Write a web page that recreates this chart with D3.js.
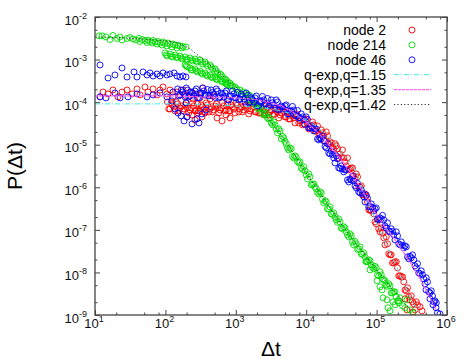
<!DOCTYPE html>
<html>
<head>
<meta charset="utf-8">
<script src="https://cdn.jsdelivr.net/npm/d3@7"></script>
<style>
  body { margin: 0; background: #fff; }
  svg { display: block; font-family: "Liberation Sans", Arial, sans-serif; }
</style>
</head>
<body>
<div id="chart"></div>
<script>
// node 2 : [dt, P]
const node2Data = [
  [11.8,1.33e-4],[13.0,1.73e-4],[15.3,1.56e-4],[18.0,1.93e-4],[21.2,1.33e-4],[24.2,1.73e-4],[28.5,1.93e-4],
  [33.6,1.56e-4],[39.5,2.04e-4],[43.6,1.48e-4],[51.3,2.27e-4],[56.6,1.73e-4],[66.7,2.04e-4],[76.0,1.48e-4],
  [83.8,1.93e-4],[92.5,2.27e-4],[105,1.56e-4],[116,1.93e-4],[128,1.33e-4],[146,1.73e-4],[161,1.48e-4],
  [178,1.93e-4],[196,1.40e-4],[224,1.73e-4],[247,1.19e-4],[281,1.56e-4],[310,1.26e-4],[342,2.15e-4],
  [365,1.48e-4],[430,1.19e-4],[474,1.40e-4],
  [203,4.50e-5],[239,5.01e-5],[263,3.82e-5],[290,5.58e-5],[331,4.50e-5],[365,5.89e-5],[541,4.26e-5],
  [637,3.62e-5],[726,5.01e-5],[827,4.26e-5],
  [107,1.01e-4],[116,6.93e-5],[126,8.60e-5],[137,6.21e-5],[149,9.10e-5],[161,7.31e-5],[175,6.21e-5],
  [190,8.60e-5],[206,7.31e-5],[224,6.56e-5],[243,9.61e-5],[263,6.21e-5],[286,9.10e-5],[310,6.21e-5],
  [337,7.72e-5],[365,5.58e-5],[396,8.60e-5],[430,6.93e-5],[467,5.89e-5],[507,8.15e-5],[550,7.31e-5],
  [597,6.56e-5],[647,9.61e-5],[703,6.21e-5],[763,9.10e-5],[827,6.21e-5],[898,7.72e-5],[974,5.58e-5],
  [1057,8.60e-5],[1147,6.93e-5],[1245,5.89e-5],[1351,8.15e-5],[1466,6.93e-5],[1591,6.21e-5],[1727,9.10e-5],
  [1874,5.89e-5],[2034,8.15e-5],[2207,5.58e-5],[2395,6.93e-5],[2599,5.01e-5],[2821,7.31e-5],[3061,5.89e-5],
  [3322,5.01e-5],[3605,6.56e-5],[3912,5.89e-5],[4245,5.01e-5],[4607,6.93e-5],[4999,4.50e-5],[5425,6.21e-5],
  [5888,4.04e-5],[6389,4.75e-5],[6934,3.25e-5],[7525,4.75e-5],[8166,3.62e-5],[8862,2.92e-5],[9615,3.82e-5],
  [10436,3.08e-5],[11324,2.62e-5],[12290,3.43e-5],[13335,2.11e-5],[14472,2.77e-5],[15705,1.70e-5],
  [17043,1.90e-5],[18496,1.23e-5],[20072,1.61e-5],[21783,1.17e-5],[23640,8.88e-6],[25654,1.05e-5],
  [27840,7.97e-6],[30213,6.08e-6],[32787,7.55e-6],[35583,3.95e-6],[38613,4.90e-6],[41907,2.70e-6],
  [45476,2.85e-6],[49353,1.57e-6],[53557,1.75e-6],[58122,1.02e-6],[63073,6.63e-7],[68455,7.00e-7],
  [74287,4.54e-7],[80610,2.95e-7],[87481,3.28e-7],[94904,1.54e-7],[103030,1.72e-7],[111760,8.98e-8],
  [121330,8.50e-8],[131620,4.44e-8],[142880,4.69e-8],[155010,2.59e-8],[168260,1.68e-8],[182550,1.78e-8],
  [198170,1.28e-8],[215000,8.32e-9],[233380,7.88e-9],[253200,3.90e-9],[274820,4.35e-9],[298200,2.27e-9],
  [323660,2.04e-9],[351200,1.32e-9],[381200,1.74e-9],
  [413500,1.56e-9],[270400,1.32e-9],[329000,1.18e-9],[441600,1.25e-9],[253200,2.40e-9],
  [111.7,6.93e-5],[121.0,9.61e-5],[131.5,7.72e-5],[142.6,1.01e-4],[154.8,6.21e-5],[167.9,8.15e-5],
  [182.3,6.93e-5],[197.8,9.61e-5],[214.7,5.58e-5],[232.9,7.31e-5],[252.8,8.15e-5],[274.3,6.56e-5],
  [297.7,6.21e-5],[323.0,8.60e-5],[350.6,6.93e-5],[380.4,9.61e-5],[412.9,5.89e-5],[448.0,7.72e-5],
  [486.3,6.56e-5],[527.6,9.10e-5],[572.7,5.58e-5],[621.5,7.31e-5],[674.4,8.15e-5],[731.9,6.56e-5],
  [794.3,6.21e-5],[861.9,8.60e-5],[935.3,6.93e-5],[1015,9.61e-5],[1101,5.89e-5],[1195,7.72e-5],
  [1297,6.56e-5],[1407,8.60e-5],[1527,5.29e-5],[1657,6.93e-5],[1799,7.72e-5],[1952,5.89e-5],
  [2119,5.58e-5],[2299,7.72e-5],[2495,6.21e-5],[2707,8.15e-5],[2939,5.01e-5],[3189,6.56e-5],
  [3461,5.29e-5],[3755,7.31e-5],[4075,4.26e-5],[4422,5.58e-5],[4799,5.89e-5],[5207,4.50e-5],
  [5651,4.04e-5],[6134,5.29e-5],[6655,4.26e-5],[7223,5.29e-5],[7839,3.25e-5],[8507,3.82e-5],
  [9232,3.08e-5],[10016,4.04e-5],[10871,2.35e-5],[11796,2.77e-5],[12803,2.92e-5],[13891,2.11e-5],
  [15075,1.80e-5],[16360,2.23e-5],[17754,1.61e-5],[19267,2.00e-5],[20909,1.05e-5],[22691,1.10e-5],
  [24626,7.97e-6],[26724,9.37e-6],[29001,4.90e-6],[31473,5.17e-6],[34154,4.90e-6],[37067,3.18e-6],
  [40223,2.56e-6],[43655,2.86e-6],[47372,1.85e-6],[51411,2.06e-6],[55790,1.02e-6],[60546,1.08e-6],
  [65703,6.63e-7],[71310,6.28e-7],[77385,2.95e-7],[83971,2.79e-7],[91129,2.38e-7],[98862,1.39e-7],
  [107326,1.06e-7],[116420,1.11e-7],[126390,6.49e-8],[137110,6.85e-8],[148840,2.73e-8],[161470,2.59e-8],
  [175280,1.68e-8],[190160,1.78e-8],[206430,8.32e-9],[223960,7.88e-9],[243110,6.01e-9],[263760,3.70e-9],
  [286280,2.67e-9],[310630,2.82e-9],[337160,1.83e-9],[365840,2.04e-9]
];

// node 214 : [dt, P]
const node214Data = [
  [11.4,3.6e-3],[12.6,3.6e-3],[14.3,3.4e-3],[16.3,2.96e-3],[18.0,3.68e-3],[20.5,3.13e-3],[22.6,3.39e-3],
  [24.2,2.88e-3],[28.5,3.13e-3],[31.4,3.30e-3],[34.7,3.05e-3],[38.2,2.88e-3],[42.2,3.13e-3],[43.6,2.66e-3],
  [46.5,2.96e-3],[51.3,2.81e-3],[54.8,2.52e-3],[56.6,2.88e-3],[60.4,2.66e-3],[64.5,2.45e-3],[66.7,2.81e-3],
  [71.2,2.59e-3],[76.0,2.32e-3],[78.5,2.66e-3],[83.8,2.45e-3],[89.5,2.20e-3],[92.5,2.59e-3],[98.7,2.39e-3],
  [105,2.09e-3],[109,2.45e-3],[116,2.26e-3],[124,1.98e-3],[128,2.32e-3],[137,2.20e-3],[146,1.87e-3],
  [151,2.14e-3],[161,2.09e-3],[172,1.87e-3],[178,2.03e-3],[196,1.98e-3],
  [98.7,1.43e-3],[107,1.21e-3],[116,1.35e-3],[126,1.15e-3],[137,1.28e-3],[149,1.09e-3],[161,1.21e-3],
  [175,1.03e-3],[190,1.15e-3],[206,9.79e-4],[224,1.09e-3],[243,9.27e-4],[263,1.03e-3],[286,8.79e-4],
  [310,9.79e-4],[337,7.89e-4],[365,8.79e-4],[396,7.08e-4],[430,7.47e-4],[467,6.02e-4],[507,6.02e-4],
  [550,4.85e-4],[597,4.59e-4],[647,3.90e-4],[703,3.50e-4],[763,2.98e-4],[827,2.82e-4],[898,2.40e-4],
  [974,2.27e-4],[1057,1.93e-4],
  [102.8,1.28e-3],[121.0,1.21e-3],[142.6,1.15e-3],[167.9,1.09e-3],[197.8,1.03e-3],[232.9,9.79e-4],
  [274.3,9.27e-4],[323.0,8.79e-4],[380.4,7.89e-4],[448.0,6.71e-4],[527.6,5.40e-4],[621.5,4.35e-4],
  [731.9,3.32e-4],[861.9,2.53e-4],[1015,2.04e-4],
  [190,7.47e-4],[206,6.71e-4],[224,6.35e-4],[243,5.70e-4],[263,6.02e-4],[286,5.12e-4],[310,5.40e-4],
  [337,4.59e-4],[365,4.85e-4],[396,4.12e-4],[430,4.35e-4],[467,3.70e-4],[507,3.90e-4],[550,3.32e-4],
  [597,3.50e-4],[647,2.98e-4],[703,2.82e-4],[763,2.53e-4],[827,2.40e-4],
  [197.8,7.08e-4],[232.9,5.70e-4],[274.3,5.40e-4],[323.0,4.85e-4],[380.4,4.35e-4],[448.0,3.90e-4],
  [527.6,3.50e-4],[621.5,3.15e-4],[731.9,2.67e-4],
  [1147,1.93e-4],[1245,1.44e-4],[1351,1.56e-4],[1466,1.13e-4],[1591,1.40e-4],[1727,1.04e-4],[1874,9.61e-5],
  [2034,7.31e-5],[2207,7.93e-5],[2395,5.29e-5],[2599,5.58e-5],[2821,4.26e-5],[3061,4.26e-5],[3322,2.92e-5],
  [3605,2.92e-5],[3912,1.90e-5],[4245,2.11e-5],[4607,1.57e-5],[4999,1.20e-5],[5425,8.41e-6],[5888,8.41e-6],
  [6389,5.31e-6],[6934,5.46e-6],[7525,4.06e-6],[8166,3.95e-6],[8862,2.63e-6],[9615,2.43e-6],[10436,1.57e-6],
  [11324,1.75e-6],[12290,1.17e-6],[13335,1.02e-6],[14472,7.59e-7],[15705,7.80e-7],[17043,5.20e-7],
  [18496,4.79e-7],[20072,3.11e-7],[21783,3.46e-7],[23640,2.31e-7],[25654,2.02e-7],[27840,1.50e-7],
  [30213,1.54e-7],[32787,1.06e-7],[35583,1.11e-7],[38613,7.63e-8],[41907,8.06e-8],[45476,5.22e-8],
  [49353,5.37e-8],[53557,3.48e-8],[58122,3.99e-8],[63073,2.66e-8],[68455,2.32e-8],[74287,1.78e-8],
  [80610,1.88e-8],[87481,1.32e-8],[94904,1.39e-8],[103030,8.78e-9],[111760,1.03e-8],[121330,7.07e-9],
  [131620,6.35e-9],[142880,4.72e-9],[155010,4.85e-9],[168260,3.32e-9],[182550,3.50e-9],[198170,2.15e-9],
  [215000,2.53e-9],[233380,1.65e-9],[253200,1.48e-9],
  [101400,6.35e-9],[111760,4.60e-9],[119400,3.90e-9],[123300,2.53e-9],[140600,2.27e-9],[145200,1.48e-9],
  [155010,1.25e-9],[182550,1.74e-9],[270400,2.27e-9],[298200,1.32e-9],[329000,1.12e-9],[207900,1.93e-9],
  [171000,2.04e-9],[80610,1.15e-8],[70720,1.78e-8],
  [1195,1.48e-4],[1297,1.73e-4],[1407,1.33e-4],[1527,1.48e-4],[1657,9.61e-5],[1799,1.07e-4],[1952,8.60e-5],
  [2119,6.93e-5],[2299,7.31e-5],[2495,5.01e-5],[2707,5.29e-5],[2939,4.04e-5],[3189,3.25e-5],[3461,3.43e-5],
  [3755,2.35e-5],[4075,2.35e-5],[4422,1.37e-5],[4799,1.45e-5],[5207,1.05e-5],[5651,7.55e-6],[6134,7.97e-6],
  [6655,4.90e-6],[7223,5.17e-6],[7839,3.74e-6],[8507,2.86e-6],[9232,3.02e-6],[10016,1.95e-6],[10871,2.06e-6],
  [11796,1.14e-6],[12803,1.20e-6],[13891,9.18e-7],[15075,7.00e-7],[16360,7.39e-7],[17754,4.30e-7],
  [19267,4.54e-7],[20909,3.11e-7],[22691,2.38e-7],[24626,2.51e-7],[26724,1.72e-7],[29001,1.81e-7],
  [31473,1.11e-7],[34154,1.18e-7],[37067,8.98e-8],[40223,6.85e-8],[43655,7.23e-8],[47372,4.44e-8],
  [51411,4.69e-8],[55790,3.58e-8],[60546,2.73e-8],[65703,2.88e-8],[71310,1.88e-8],[77385,1.98e-8],
  [83971,1.51e-8],[91129,1.22e-8],[98862,1.28e-8],[107326,8.32e-9],[116420,8.78e-9],[126390,6.70e-9],
  [137110,5.12e-9],[148840,5.40e-9],[161470,3.32e-9],[175280,3.50e-9],[190160,2.67e-9],[206430,2.15e-9]
];

// node 46 : [dt, P]
const node46Data = [
  [11.8,7.47e-4],[15.3,3.70e-4],[19.2,4.35e-4],[24.2,6.35e-4],[28.5,3.90e-4],[35.8,5.12e-4],[39.5,3.90e-4],
  [48.1,5.12e-4],[54.8,4.35e-4],[60.5,4.85e-4],[66.7,4.12e-4],[76.0,4.59e-4],[83.8,4.12e-4],[92.5,4.85e-4],
  [105,4.35e-4],[116,4.59e-4],[133,4.85e-4],[146,4.12e-4],[161,3.90e-4],[178,4.12e-4],[196,3.90e-4],
  [11.8,1.33e-4],[14.3,1.26e-4],[19.2,1.64e-4],[22.7,1.26e-4],[29.4,1.33e-4],[39.5,1.56e-4],[54.8,1.33e-4],
  [66.7,1.48e-4],[83.8,1.64e-4],[105,1.33e-4],[128,1.73e-4],[124,1.07e-4],[196,9.61e-5],
  [137,6.93e-5],[151,5.58e-5],[167,4.75e-5],[184,3.62e-5],[203,4.50e-5],[239,3.08e-5],[281,4.04e-5],
  [331,5.29e-5],[377,6.56e-5],[300,3.25e-5],
  [149,2.04e-4],[161,1.48e-4],[175,1.73e-4],[190,1.33e-4],[206,1.93e-4],[224,1.40e-4],[243,1.64e-4],
  [263,1.83e-4],[286,1.26e-4],[310,1.56e-4],[337,2.15e-4],[365,1.48e-4],[396,1.98e-4],[430,1.44e-4],
  [467,1.69e-4],[507,1.29e-4],[550,1.83e-4],[597,1.33e-4],[647,1.52e-4],[703,1.64e-4],[763,1.13e-4],
  [827,1.36e-4],[898,1.83e-4],[974,1.26e-4],[1057,1.69e-4],[1147,1.19e-4],[1245,1.36e-4],[1351,1.01e-4],
  [1466,1.44e-4],[1591,1.01e-4],[1727,1.16e-4],[1874,1.26e-4],[2034,8.37e-5],[2207,1.01e-4],[2395,1.36e-4],
  [2599,9.10e-5],[2821,1.22e-4],[3061,8.60e-5],[3322,9.61e-5],[3605,7.12e-5],[3912,1.01e-4],[4245,6.93e-5],
  [4607,7.72e-5],[4999,8.15e-5],[5425,5.29e-5],[5888,6.21e-5],[6389,7.93e-5],[6934,5.01e-5],[7525,6.38e-5],
  [8166,4.26e-5],[8862,4.50e-5],[9615,3.00e-5],[10436,3.92e-5],[11324,2.48e-5],[12290,2.48e-5],
  [13335,2.35e-5],[14472,1.37e-5],[15705,1.45e-5],[17043,1.61e-5],[18496,9.12e-6],[20072,1.05e-5],
  [21783,6.08e-6],[23640,5.92e-6],[25654,3.74e-6],[27840,4.64e-6],[30213,2.78e-6],[32787,2.70e-6],
  [35583,2.56e-6],[38613,1.49e-6],[41907,1.57e-6],[45476,1.85e-6],[49353,1.08e-6],[53557,1.24e-6],
  [58122,7.39e-7],[63073,7.19e-7],[68455,4.54e-7],[74287,5.49e-7],[80610,3.56e-7],[87481,3.37e-7],
  [94904,3.11e-7],[103030,1.81e-7],[111760,1.91e-7],[121330,2.19e-7],[131620,1.24e-7],[142880,1.46e-7],
  [155010,8.98e-8],[168260,9.22e-8],[182550,5.82e-8],[198170,7.23e-8],[215000,4.44e-8],[233380,4.32e-8],
  [253200,4.21e-8],[274820,2.32e-8],[298200,2.39e-8],[323660,2.59e-8],[351200,1.43e-8],[381200,1.60e-8],
  [413500,9.27e-9],[448800,8.78e-9],[487000,5.40e-9],[528500,6.01e-9],[573500,3.32e-9],[622400,2.82e-9],
  [675500,2.15e-9],[733000,1.12e-9],
  [573500,2.40e-9],[697800,1.48e-9],[503000,3.90e-9],[632600,1.74e-9],[795500,1.06e-9],
  [154.8,1.40e-4],[167.9,1.93e-4],[182.3,1.56e-4],[197.8,2.15e-4],[214.7,1.33e-4],[232.9,1.73e-4],
  [252.8,1.48e-4],[274.3,2.04e-4],[297.7,1.26e-4],[323.0,1.64e-4],[350.6,1.83e-4],[380.4,1.48e-4],
  [412.9,1.40e-4],[448.0,1.93e-4],[486.3,1.56e-4],[527.6,2.04e-4],[572.7,1.26e-4],[621.5,1.64e-4],
  [674.4,1.33e-4],[731.9,1.83e-4],[794.3,1.13e-4],[861.9,1.40e-4],[935.3,1.56e-4],[1015,1.26e-4],
  [1101,1.13e-4],[1195,1.56e-4],[1297,1.19e-4],[1407,1.64e-4],[1527,9.61e-5],[1657,1.26e-4],
  [1799,1.01e-4],[1952,1.40e-4],[2119,8.15e-5],[2299,1.07e-4],[2495,1.13e-4],[2707,9.10e-5],
  [2939,8.15e-5],[3189,1.13e-4],[3461,8.60e-5],[3755,1.13e-4],[4075,6.56e-5],[4422,8.15e-5],
  [4799,6.93e-5],[5207,8.60e-5],[5651,5.29e-5],[6134,6.21e-5],[6655,6.56e-5],[7223,4.75e-5],
  [7839,4.26e-5],[8507,5.29e-5],[9232,3.82e-5],[10016,4.50e-5],[10871,2.48e-5],[11796,2.77e-5],
  [12803,2.11e-5],[13891,2.35e-5],[15075,1.30e-5],[16360,1.37e-5],[17754,1.23e-5],[19267,8.41e-6],
  [20909,6.42e-6],[22691,7.15e-6],[24626,4.90e-6],[26724,5.46e-6],[29001,2.86e-6],[31473,3.18e-6],
  [34154,2.30e-6],[37067,2.56e-6],[40223,1.34e-6],[43655,1.49e-6],[47372,1.41e-6],[51411,9.69e-7],
  [55790,7.80e-7],[60546,8.69e-7],[65703,5.95e-7],[71310,6.63e-7],[77385,3.46e-7],[83971,4.08e-7],
  [91129,2.79e-7],[98862,3.28e-7],[107326,1.72e-7],[116420,1.81e-7],[126390,1.72e-7],[137110,1.11e-7],
  [148840,9.47e-8],[161470,1.06e-7],[175280,7.63e-8],[190160,8.98e-8],[206430,4.69e-8],[223960,5.22e-8],
  [243110,3.78e-8],[263760,3.99e-8],[286280,2.09e-8],[310630,2.20e-8],[337160,1.98e-8],[365840,1.28e-8],
  [397100,9.78e-9],[430740,1.09e-8],[467510,7.07e-9],[507310,7.47e-9],[550540,3.50e-9],[597410,3.70e-9],
  [648350,2.04e-9],[703670,1.93e-9]
];

// q-exponential fits
const fitQ115 = [[10,9.1e-5],[100,9.1e-5],[300,8.85e-5],[1000,8.15e-5],[3000,6.93e-5],[5000,5.89e-5],
  [10000,3.82e-5],[20000,1.61e-5],[30000,7.55e-6],[50000,2.43e-6],[70000,5.95e-7],[100000,1.46e-7],
  [150000,3.39e-8],[200000,1.15e-8],[300000,2.67e-9],[400000,1.12e-9]];
const fitQ135 = [[10,1.40e-4],[100,1.40e-4],[300,1.33e-4],[1000,1.26e-4],[3000,9.87e-5],[5000,7.31e-5],
  [10000,3.43e-5],[20000,1.10e-5],[50000,1.49e-6],[100000,2.25e-7],[200000,4.69e-8],[400000,7.88e-9],
  [700000,1.32e-9]];
const fitQ142 = [[10,3.39e-3],[100,2.73e-3],[200,1.98e-3],[300,1.21e-3],[500,6.02e-4],[1000,2.27e-4],
  [2000,8.6e-5],[5000,1.23e-5],[10000,2.17e-6],[30000,1.54e-7],[100000,1.15e-8],[300000,1.32e-9]];

// ticks
const xMajorExp = [1, 2, 3, 4, 5, 6];
const yMajorExp = [-9, -8, -7, -6, -5, -4, -3, -2];
const xMinorMult = [2, 5, 8];
const yMinorMult = [2, 5];

const seriesNames = ['node 2', 'node 214', 'node 46'];
const fitNames = ['q-exp,q=1.15', 'q-exp,q=1.35', 'q-exp,q=1.42'];

const width = 471, height = 360;
const margin = { top: 17, right: 24, bottom: 45, left: 95 };
const innerWidth = width - margin.left - margin.right;
const innerHeight = height - margin.top - margin.bottom;

const x = d3.scaleLog().domain([10, 1e6]).range([0, innerWidth]);
const y = d3.scaleLog().domain([1e-9, 1e-2]).range([innerHeight, 0]);

const svg = d3.select('#chart').append('svg')
  .attr('width', width)
  .attr('height', height);

svg.append('defs').append('clipPath').attr('id', 'clip')
  .append('rect').attr('width', innerWidth).attr('height', innerHeight);

const g = svg.append('g').attr('transform', `translate(${margin.left},${margin.top})`);

// minor tick values
const xMinor = [], yMinor = [];
xMajorExp.slice(0, -1).forEach(e => xMinorMult.forEach(m => xMinor.push(m * Math.pow(10, e))));
yMajorExp.slice(0, -1).forEach(e => yMinorMult.forEach(m => yMinor.push(m * Math.pow(10, e))));
const xMajor = xMajorExp.map(e => Math.pow(10, e));
const yMajor = yMajorExp.map(e => Math.pow(10, e));

const axisColor = '#444';
function drawAxis(axis, transform) {
  const a = g.append('g').attr('transform', transform).call(axis);
  a.select('.domain').remove();
  a.selectAll('line').attr('stroke', axisColor).attr('stroke-width', 1);
  a.selectAll('text').remove();
}
drawAxis(d3.axisBottom(x).tickValues(xMajor).tickSize(-5), `translate(0,${innerHeight})`);
drawAxis(d3.axisBottom(x).tickValues(xMinor).tickSize(-2.5), `translate(0,${innerHeight})`);
drawAxis(d3.axisTop(x).tickValues(xMajor).tickSize(-5), 'translate(0,0)');
drawAxis(d3.axisTop(x).tickValues(xMinor).tickSize(-2.5), 'translate(0,0)');
drawAxis(d3.axisLeft(y).tickValues(yMajor).tickSize(-5), 'translate(0,0)');
drawAxis(d3.axisLeft(y).tickValues(yMinor).tickSize(-2.5), 'translate(0,0)');
drawAxis(d3.axisRight(y).tickValues(yMajor).tickSize(-5), `translate(${innerWidth},0)`);
drawAxis(d3.axisRight(y).tickValues(yMinor).tickSize(-2.5), `translate(${innerWidth},0)`);

// tick labels with superscripts
xMajorExp.forEach(e => {
  const t = g.append('text')
    .attr('x', x(Math.pow(10, e)) - 1)
    .attr('y', innerHeight + 12.5)
    .attr('text-anchor', 'middle')
    .attr('font-size', 13)
    .attr('fill', '#111');
  t.append('tspan').text('10');
  t.append('tspan').attr('dy', -6).attr('font-size', 9).text(e);
});
yMajorExp.forEach(e => {
  const t = g.append('text')
    .attr('x', -8)
    .attr('y', y(Math.pow(10, e)) + 7.5)
    .attr('text-anchor', 'end')
    .attr('font-size', 13)
    .attr('fill', '#111');
  t.append('tspan').text('10');
  t.append('tspan').attr('dy', -6).attr('font-size', 9).text('-' + Math.abs(e));
});

// axis titles
svg.append('text')
  .attr('transform', `translate(22,${margin.top + innerHeight / 2}) rotate(-90)`)
  .attr('text-anchor', 'middle')
  .attr('font-size', 21)
  .text('P(Δt)');
svg.append('text')
  .attr('x', margin.left + innerWidth / 2)
  .attr('y', 356)
  .attr('text-anchor', 'middle')
  .attr('font-size', 21)
  .text('Δt');

// scatter series
const colors = ['#ff0000', '#00dd00', '#0000ff'];
const plot = g.append('g').attr('clip-path', 'url(#clip)');
[node2Data, node214Data, node46Data].forEach((data, i) => {
  plot.append('g').selectAll('circle')
    .data(data)
    .join('circle')
    .attr('cx', d => x(d[0]))
    .attr('cy', d => y(d[1]))
    .attr('r', 3)
    .attr('fill', 'none')
    .attr('stroke', colors[i])
    .attr('stroke-width', 0.9);
});

// fit lines
const fitStyles = [
  { stroke: '#40e8e8', dash: '5,2,1,2', width: 1 },
  { stroke: '#ff60ff', dash: '3,1', width: 1.2 },
  { stroke: '#333', dash: '1.2,2.2', width: 1 }
];
const line = d3.line().x(d => x(d[0])).y(d => y(d[1])).curve(d3.curveMonotoneX);
[fitQ115, fitQ135, fitQ142].forEach((data, i) => {
  plot.append('path')
    .attr('d', line(data))
    .attr('fill', 'none')
    .attr('stroke', fitStyles[i].stroke)
    .attr('stroke-width', fitStyles[i].width)
    .attr('stroke-dasharray', fitStyles[i].dash);
});

// frame
g.append('rect')
  .attr('width', innerWidth)
  .attr('height', innerHeight)
  .attr('fill', 'none')
  .attr('stroke', axisColor)
  .attr('stroke-width', 1.3);

// legend
const legend = svg.append('g');
const rowY = i => 30 + i * 14.9;
seriesNames.concat(fitNames).forEach((name, i) => {
  legend.append('text')
    .attr('x', 386)
    .attr('y', rowY(i) + 5)
    .attr('text-anchor', 'end')
    .attr('font-size', 14)
    .text(name);
  if (i < 3) {
    legend.append('circle')
      .attr('cx', 412).attr('cy', rowY(i)).attr('r', 3)
      .attr('fill', 'none').attr('stroke', colors[i]).attr('stroke-width', 0.9);
  } else {
    const s = fitStyles[i - 3];
    legend.append('line')
      .attr('x1', 394).attr('x2', 431)
      .attr('y1', rowY(i)).attr('y2', rowY(i))
      .attr('stroke', s.stroke).attr('stroke-width', s.width)
      .attr('stroke-dasharray', s.dash);
  }
});
</script>
</body>
</html>
